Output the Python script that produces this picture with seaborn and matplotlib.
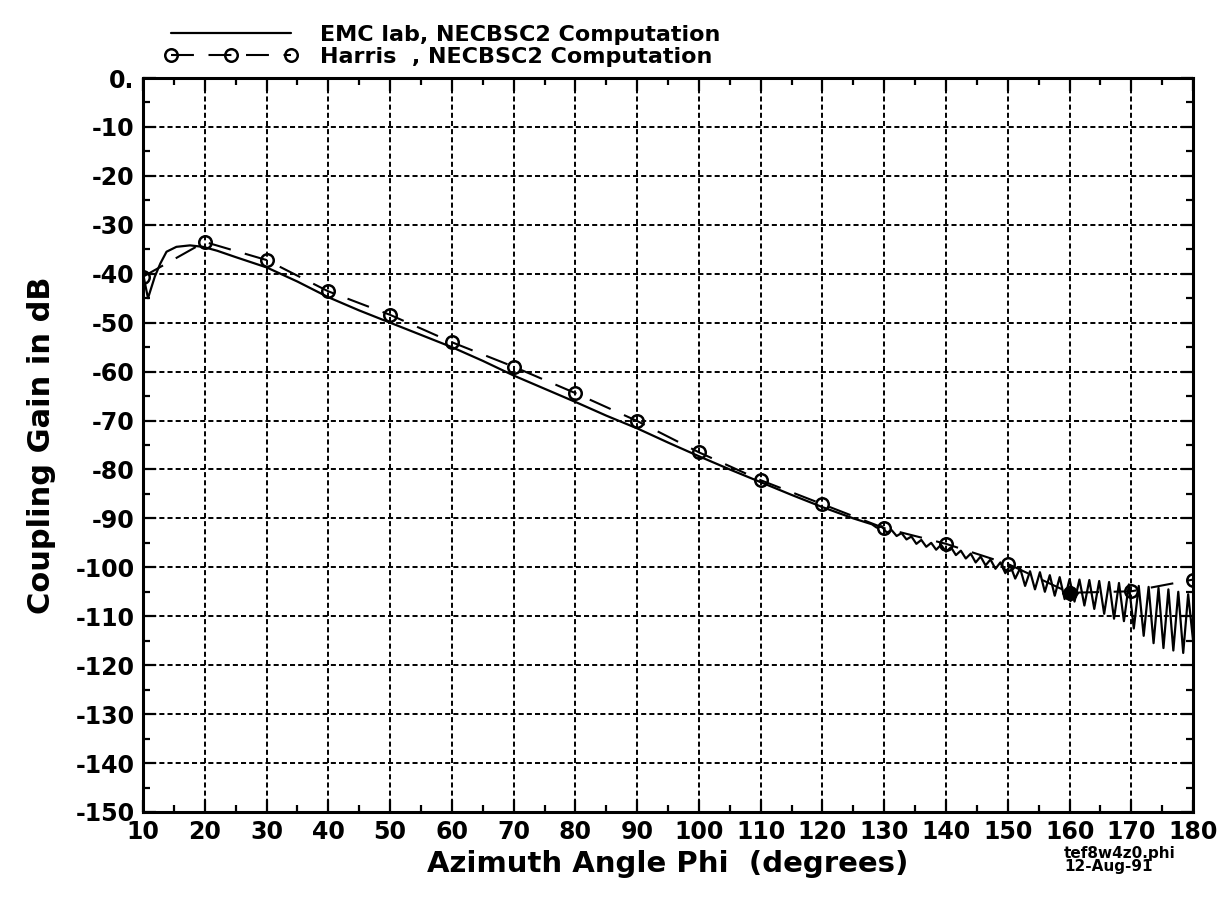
import matplotlib
matplotlib.use("Agg")
import matplotlib.pyplot as plt
import seaborn as sns
import numpy as np

# ---- data ----
harris_x = [10, 20, 30, 40, 50, 60, 70, 80, 90, 100, 110, 120, 130, 140, 150, 160, 170, 180]
harris_y = [-40.6, -33.5, -37.2, -43.6, -48.4, -54.0, -59.0, -64.4, -70.1, -76.5, -82.2,
            -87.1, -92.0, -95.2, -99.3, -105.2, -104.9, -102.5]

emc_x = [10.0, 10.8, 11.9, 12.8, 13.8, 15.4, 17.6, 19.7, 22.0, 25.0, 30.0, 35.0, 40.0, 45.0,
         50.0, 55.0, 60.0, 65.0, 70.0, 75.0, 80.0, 85.0, 90.0, 95.0, 100.0, 105.0, 110.0,
         115.0, 120.0, 125.0,
         128.0, 128.8, 129.6, 130.4, 131.2, 132.0, 132.8, 133.6, 134.4, 135.2, 136.0, 136.8,
         137.6, 138.4, 139.2, 140.0, 140.8, 141.6, 142.4, 143.2, 144.0, 144.8, 145.6, 146.4,
         147.2, 148.0, 148.8, 149.6, 150.4, 151.2, 152.0, 152.8, 153.6, 154.4, 155.2, 156.0,
         156.8, 157.6, 158.4, 159.2, 160.0, 160.8, 161.6, 162.4, 163.2, 164.0, 164.8, 165.6,
         166.4, 167.2, 168.0, 168.8, 169.6, 170.4, 171.2, 172.0, 172.8, 173.6, 174.4, 175.2,
         176.0, 176.8, 177.6, 178.4, 179.2, 180.0]
emc_y = [-40.0, -45.0, -40.6, -37.9, -35.5, -34.5, -34.2, -34.5, -35.3, -36.6, -38.7, -41.6,
         -44.8, -47.5, -50.0, -52.5, -55.0, -57.8, -60.8, -63.5, -66.2, -69.0, -71.6, -74.5,
         -77.3, -80.0, -82.6, -85.2, -87.7, -90.0,
         -91.2, -91.9, -91.6, -92.9, -92.4, -93.6, -93.0, -94.3, -93.7, -95.2, -94.4, -95.8,
         -95.0, -96.4, -95.4, -96.8, -95.9, -97.5, -96.6, -98.2, -97.2, -99.0, -97.8, -99.6,
         -98.4, -100.3, -99.0, -101.2, -99.6, -102.3, -100.2, -103.8, -100.8, -104.5, -101.0,
         -105.0, -101.6, -105.8, -102.0, -106.5, -102.4, -107.0, -102.5, -107.8, -102.6,
         -108.5, -102.8, -109.5, -103.0, -110.5, -103.2, -111.0, -103.5, -112.5, -103.8,
         -114.0, -104.0, -115.5, -104.2, -116.5, -104.5, -117.0, -105.0, -117.5, -105.5,
         -115.0]

x_ticks = list(range(10, 181, 10))
y_ticks = list(range(0, -151, -10))
y_tick_labels = ["0."] + [str(v) for v in y_ticks[1:]]

label_emc = "EMC lab, NECBSC2 Computation"
label_harris = "Harris  , NECBSC2 Computation"

# ---- style ----
sns.set_theme(style="ticks")
plt.rcParams['font.family'] = ['DejaVu Sans']
plt.rcParams['font.weight'] = 'bold'
plt.rcParams['text.color'] = 'black'
plt.rcParams['axes.labelcolor'] = 'black'
plt.rcParams['xtick.color'] = 'black'
plt.rcParams['ytick.color'] = 'black'

fig = plt.figure(figsize=(12.3, 8.99), dpi=100)
ax = fig.add_axes([0.1163, 0.0968, 0.8537, 0.8164])

sns.lineplot(x=emc_x, y=emc_y, ax=ax, sort=False, estimator=None, color="black",
             linewidth=1.6, label=label_emc)
sns.lineplot(x=harris_x, y=harris_y, ax=ax, sort=False, estimator=None, color="black",
             linewidth=1.5, dashes=False, label=label_harris,
             marker="o", markersize=9, markerfacecolor="none", markeredgecolor="black",
             markeredgewidth=1.8)
hl = ax.get_lines()[-1]
hl.set_linestyle((0, (11, 7)))

# filled blob at 160
i160 = harris_x.index(160)
ax.plot([harris_x[i160]], [harris_y[i160]], marker="D", markersize=8, color="black",
        linestyle="none", zorder=5)

ax.set_xlim(10, 180)
ax.set_ylim(-150, 0)
ax.set_xticks(x_ticks)
ax.set_xticklabels([str(v) for v in x_ticks])
ax.set_yticks(y_ticks)
ax.set_yticklabels(y_tick_labels)
ax.set_xticks(np.arange(15, 180, 10), minor=True)
ax.set_yticks(np.arange(-5, -150, -10), minor=True)

ax.tick_params(which="both", direction="in", top=True, right=True, colors="black",
               labelsize=17, width=1.6)
ax.tick_params(which="major", length=9, pad=6)
ax.tick_params(which="minor", length=5)
for sp in ax.spines.values():
    sp.set_visible(True)
    sp.set_linewidth(2.2)
    sp.set_color("black")

ax.grid(True, which="major", color="black", linestyle=(0, (2.6, 1.6)), linewidth=1.4)
ax.set_axisbelow(True)

ax.set_xlabel("Azimuth Angle Phi  (degrees)", fontsize=21, fontweight="bold", labelpad=4,
              color="black")
ax.set_ylabel("Coupling Gain in dB", fontsize=22, fontweight="bold", labelpad=14,
              color="black")

leg = ax.legend(loc="lower left", bbox_to_anchor=(0.01, 1.0), frameon=False,
                handlelength=6.0, numpoints=3, fontsize=16, borderaxespad=0.1,
                labelspacing=0.1, handletextpad=1.0)
for t in leg.get_texts():
    t.set_color("black")

fig.text(0.865, 0.046, "tef8w4z0.phi", fontsize=11, fontweight="bold", ha="left",
         color="black")
fig.text(0.865, 0.031, "12-Aug-91", fontsize=11, fontweight="bold", ha="left",
         color="black")

fig.savefig("out.png", dpi=100, facecolor="white")
